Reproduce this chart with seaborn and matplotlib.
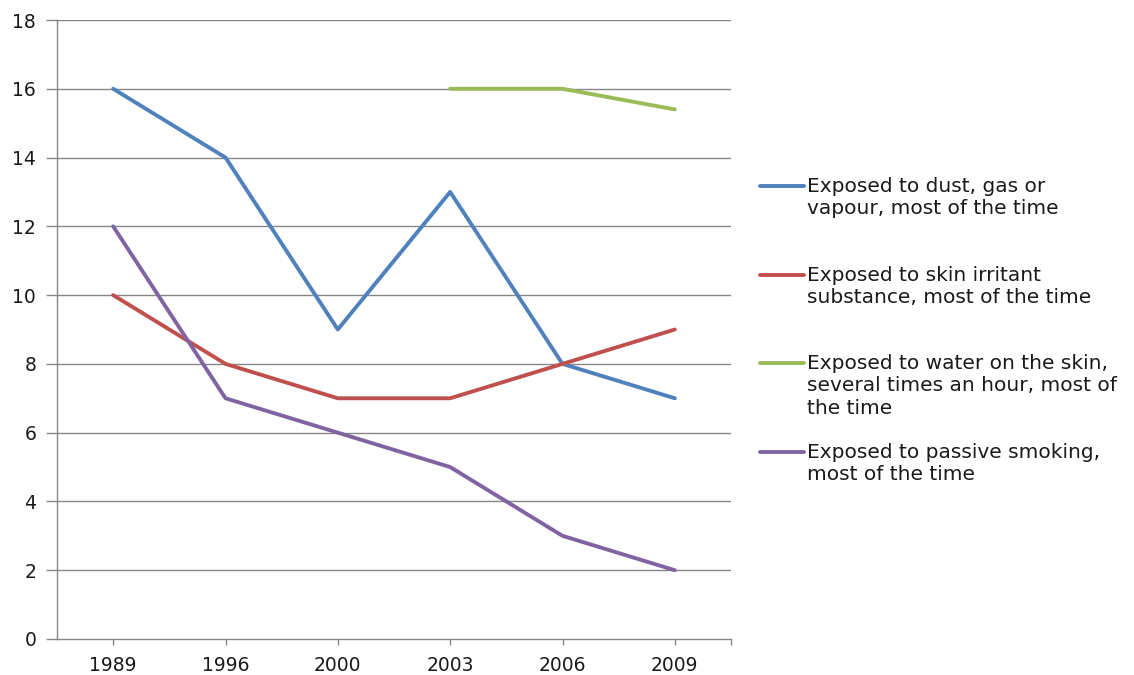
import numpy as np
import pandas as pd
import matplotlib
matplotlib.use("Agg")
import matplotlib.pyplot as plt
from matplotlib.lines import Line2D
import seaborn as sns

# Survey years and share of workers (%) per exposure type
years = ["1989", "1996", "2000", "2003", "2006", "2009"]
dust_gas_vapour = [16, 14, 9, 13, 8, 7]
skin_irritant = [10, 8, 7, 7, 8, 9]
water_on_skin = [np.nan, np.nan, np.nan, 16, 16, 15.4]
passive_smoking = [12, 7, 6, 5, 3, 2]

series_labels = [
    "Exposed to dust, gas or\nvapour, most of the time",
    "Exposed to skin irritant\nsubstance, most of the time",
    "Exposed to water on the skin,\nseveral times an hour, most of\nthe time",
    "Exposed to passive smoking,\nmost of the time",
]
series_values = [dust_gas_vapour, skin_irritant, water_on_skin, passive_smoking]
colors = ["#4F81BD", "#C0504D", "#9BBB59", "#8064A2"]
y_ticks = [0, 2, 4, 6, 8, 10, 12, 14, 16, 18]

rows = []
for label, vals in zip(series_labels, series_values):
    for i, v in enumerate(vals):
        if not np.isnan(v):
            rows.append({"pos": i, "value": v, "series": label})
df = pd.DataFrame(rows)

sns.set_style("white")
plt.rcParams["font.family"] = ["DejaVu Sans"]
FS = 13.5
LEG_FS = 14.5
grid_col = "#868686"

fig = plt.figure(figsize=(11.34, 6.75), dpi=100)
ax = fig.add_axes([57 / 1134, 1 - 639 / 675, (731 - 57) / 1134, (639 - 20) / 675])

for yv in y_ticks[1:]:
    ax.axhline(yv, color=grid_col, lw=1.0, zorder=0)

sns.lineplot(data=df, x="pos", y="value", hue="series", hue_order=series_labels,
             palette=colors, linewidth=2.8, legend=False, ax=ax, sort=False,
             estimator=None)

ax.set_xlim(-0.5, len(years) - 0.5)
ax.set_ylim(0, 18)
ax.set_yticks(y_ticks)
ax.set_yticklabels([str(t) for t in y_ticks], fontsize=FS, color="#1a1a1a")
ax.set_xticks(list(range(len(years))) + [len(years) - 0.5])
ax.set_xticklabels(years + [""], fontsize=FS, color="#1a1a1a")
ax.set_xlabel("")
ax.set_ylabel("")
ax.tick_params(axis="y", length=8, width=1, color=grid_col, pad=7, left=True)
ax.tick_params(axis="x", length=4, width=1, color=grid_col, pad=8, bottom=True)

for side in ["top", "right"]:
    ax.spines[side].set_visible(False)
for side in ["left", "bottom"]:
    ax.spines[side].set_color(grid_col)
    ax.spines[side].set_linewidth(1.0)

# Legend on the right, one entry per series, line handle beside the first text line
W, H = 1134, 675
line_rows = [186, 275, 363, 452]
for label, col, yl in zip(series_labels, colors, line_rows):
    fig.add_artist(Line2D([760 / W, 804 / W], [1 - yl / H, 1 - yl / H],
                          color=col, lw=2.8, transform=fig.transFigure))
    fig.text(807 / W, 1 - (yl - 9) / H, label, fontsize=LEG_FS, va="top", ha="left",
             color="#1a1a1a", linespacing=1.22)

fig.savefig("out.png", dpi=100)
